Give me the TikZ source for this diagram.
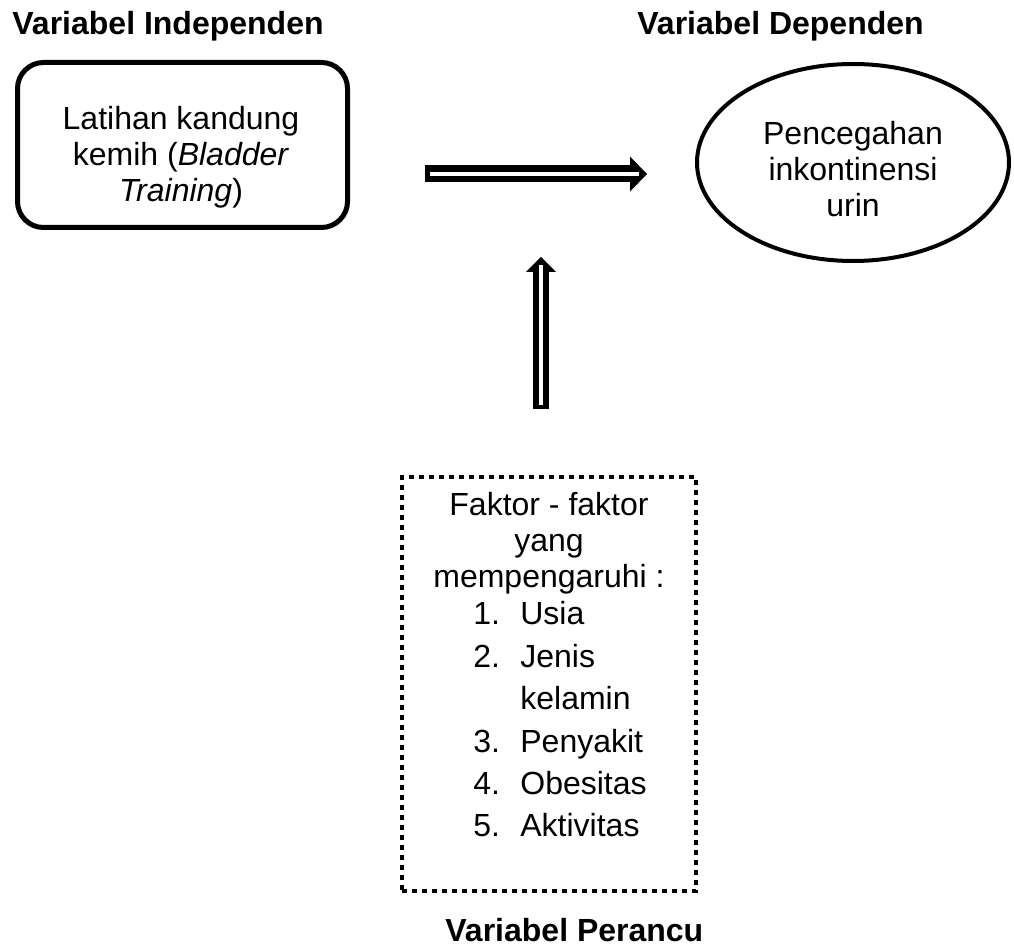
\documentclass[tikz,border=0pt]{standalone}
\usepackage{fontspec}
\setmainfont{Liberation Sans}
\usetikzlibrary{arrows.meta,shapes.geometric}

\begin{document}
\begin{tikzpicture}[
  x=0.5pt,y=-0.5pt,
  judul/.style={font=\fontsize{16}{19}\selectfont\bfseries,inner sep=0pt,anchor=base west},
  isi/.style={font=\fontsize{16}{18}\selectfont,align=center,inner sep=0pt},
  kotak/.style={draw,line width=2.5pt,rounded corners=13pt,minimum width=165pt,minimum height=82.5pt,inner sep=0pt},
  elips/.style={draw,ellipse,line width=2pt,minimum width=156pt,minimum height=98.5pt,inner sep=0pt},
  titik/.style={draw,line width=2.4pt,dash pattern=on 2.4pt off 2.6pt,minimum width=147pt,minimum height=207pt,inner sep=0pt},
  panah/.style={line width=8.5pt,-{Triangle[length=8.5pt,width=17.5pt,line width=0pt]}},
  inti/.style={white,line width=2.4pt,shorten <=2.5pt,shorten >=4pt}
]
\useasboundingbox (0,0) rectangle (1014,952);

% judul variabel
\node[judul] (jIndependen) at (12,35) {Variabel Independen};
\node[judul] (jDependen) at (637,35) {Variabel Dependen};
\node[judul] (jPerancu) at (445,942) {Variabel Perancu};

% variabel independen dan dependen
\node[kotak] (bt) at (182.5,145) {};
\node[isi] (latihan) at (181,157.7) {Latihan kandung\\kemih (\textit{Bladder}\\\textit{Training})};
\node[elips] (cegah) at (853,162.5) {};
\node[isi] (pencegahan) at (853,169.5) {Pencegahan\\inkontinensi\\urin};

% faktor perancu
\node[titik] (faktor) at (549,684) {};
\node[isi] (pengaruh) at (549,543.4) {Faktor - faktor\\yang\\mempengaruhi :};
\node[inner sep=0pt,anchor=west,font=\fontsize{16}{21.2}\selectfont] (daftar) at (473,722.5) {%
  \begin{tabular}{@{}p{23.5pt}@{}l@{}}
    1. & Usia\\
    2. & Jenis\\
       & kelamin\\
    3. & Penyakit\\
    4. & Obesitas\\
    5. & Aktivitas
  \end{tabular}};

% panah
\coordinate (h0) at (425,174);
\coordinate (h1) at (647,174);
\coordinate (v0) at (541,409);
\coordinate (v1) at (541,257);
\draw[panah] (h0) -- (h1);
\draw[inti] (h0) -- (h1);
\draw[panah,line width=8pt,-{Triangle[length=7.5pt,width=15pt,line width=0pt]}] (v0) -- (v1);
\draw[inti,shorten <=2pt] (v0) -- (v1);
\end{tikzpicture}
\end{document}
